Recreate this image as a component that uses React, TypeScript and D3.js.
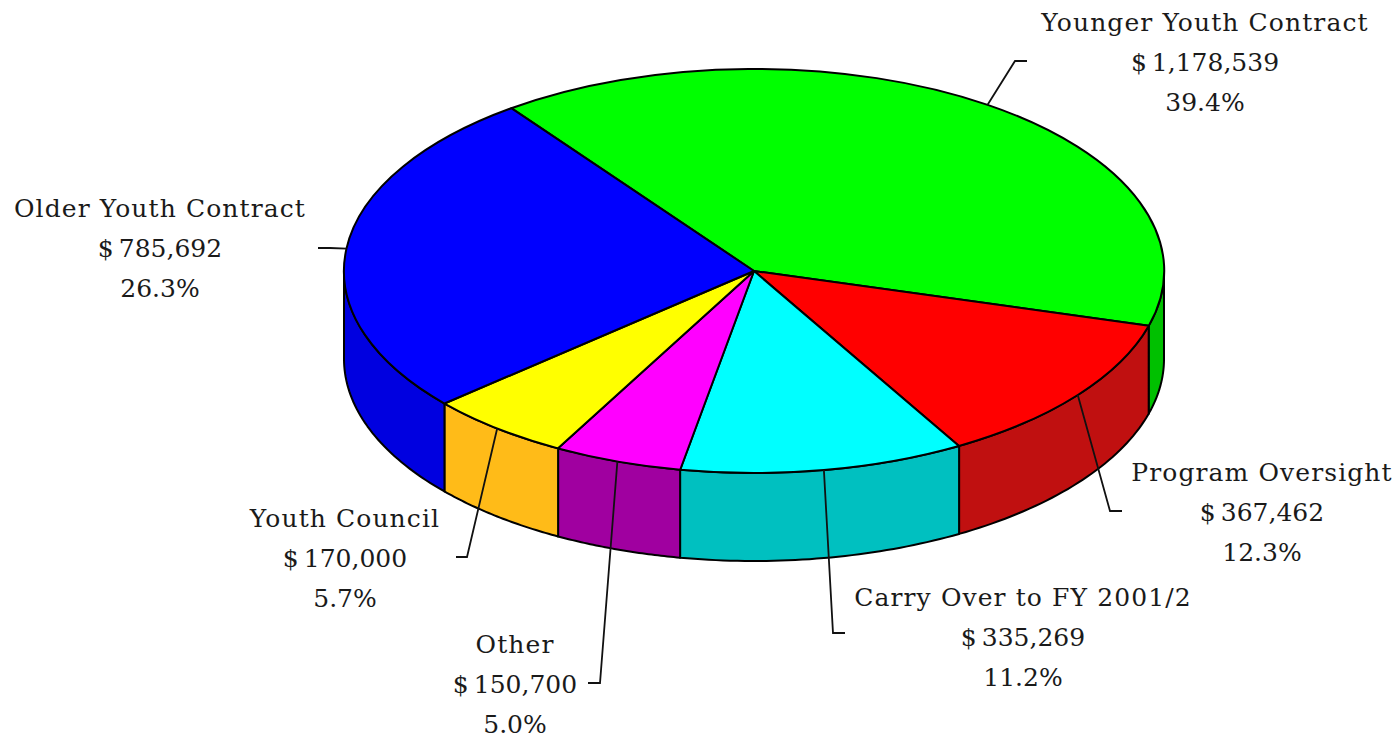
import React from "react";
import * as d3 from "d3";

const categories = ["Younger Youth Contract", "Program Oversight", "Carry Over to FY 2001/2", "Other", "Youth Council", "Older Youth Contract"];
const amounts = [1178539, 367462, 335269, 150700, 170000, 785692];
const topColors = ["#00FF00", "#FF0000", "#00FFFF", "#FF00FF", "#FFFF00", "#0000FF"];
const sideColors = ["#00C000", "#C01010", "#00C0C0", "#A000A0", "#FFBB18", "#0000E0"];
const labelCenters: [number, number][] = [[1205, 31], [1262, 481], [1023, 606], [515, 653], [345, 527], [160, 217]];
const leaderElbows: [number, number, number][] = [[1015, 61, 1027], [1110, 511, 1122], [833, 633, 845], [600, 683, 588], [467, 557, 456], [330, 248, 318]];

const W = 1395, H = 738;
const cx = 754, cy = 271, rx = 410, ry = 202, depth = 88;
const FONT = "'DejaVu Serif', serif";
const rad = Math.PI / 180;
const startDeg = -36.3;

const px = (a: number) => cx + rx * Math.sin(a);
const py = (a: number) => cy - ry * Math.cos(a);

export default function App() {
  const total = d3.sum(amounts);
  const pie = d3.pie<number>().sort(null).startAngle(startDeg * rad).endAngle((startDeg + 360) * rad);
  const arcs = pie(amounts);
  const unitArc = d3.arc<any>().innerRadius(0).outerRadius(1);
  const line = d3.line<[number, number]>();
  const money = d3.format(",");
  const pct = d3.format(".1%");

  const sides = arcs.map((s, i) => {
    const a0 = Math.max(s.startAngle, 90 * rad);
    const a1 = Math.min(s.endAngle, 270 * rad);
    if (a1 <= a0) return null;
    const steps = d3.range(0, 41).map((k) => a0 + ((a1 - a0) * k) / 40);
    const top = steps.map((a) => [px(a), py(a)] as [number, number]);
    const bottom = steps.slice().reverse().map((a) => [px(a), py(a) + depth] as [number, number]);
    return <path key={i} d={line([...top, ...bottom]) + "Z"} fill={sideColors[i]} stroke="#000" strokeWidth={2} strokeLinejoin="round" />;
  });

  return (
    <svg width={W} height={H} viewBox={`0 0 ${W} ${H}`} style={{ position: "absolute", left: 0, top: 0, background: "#fff" }}>
      {sides}
      <g transform={`translate(${cx},${cy}) scale(${rx},${ry})`}>
        {arcs.map((s, i) => (
          <path key={i} d={unitArc(s) as string} fill={topColors[i]} stroke="#000" strokeWidth={2} vectorEffect="non-scaling-stroke" strokeLinejoin="round" />
        ))}
      </g>
      {arcs.map((s, i) => {
        const m = (s.startAngle + s.endAngle) / 2;
        const [ex, ey, tx] = leaderElbows[i];
        return <path key={i} d={line([[px(m), py(m)], [ex, ey], [tx, ey]]) as string} fill="none" stroke="#111" strokeWidth={1.8} />;
      })}
      {categories.map((c, i) => {
        const [x, y] = labelCenters[i];
        return (
          <text key={c} x={x} y={y} textAnchor="middle" fontFamily={FONT} fontSize={25} fill="#1a1a1a">
            <tspan x={x} letterSpacing={1.1}>{c}</tspan>
            <tspan x={x} dy={40}>{"$\u2009" + money(amounts[i])}</tspan>
            <tspan x={x} dy={40}>{pct(amounts[i] / total)}</tspan>
          </text>
        );
      })}
    </svg>
  );
}
